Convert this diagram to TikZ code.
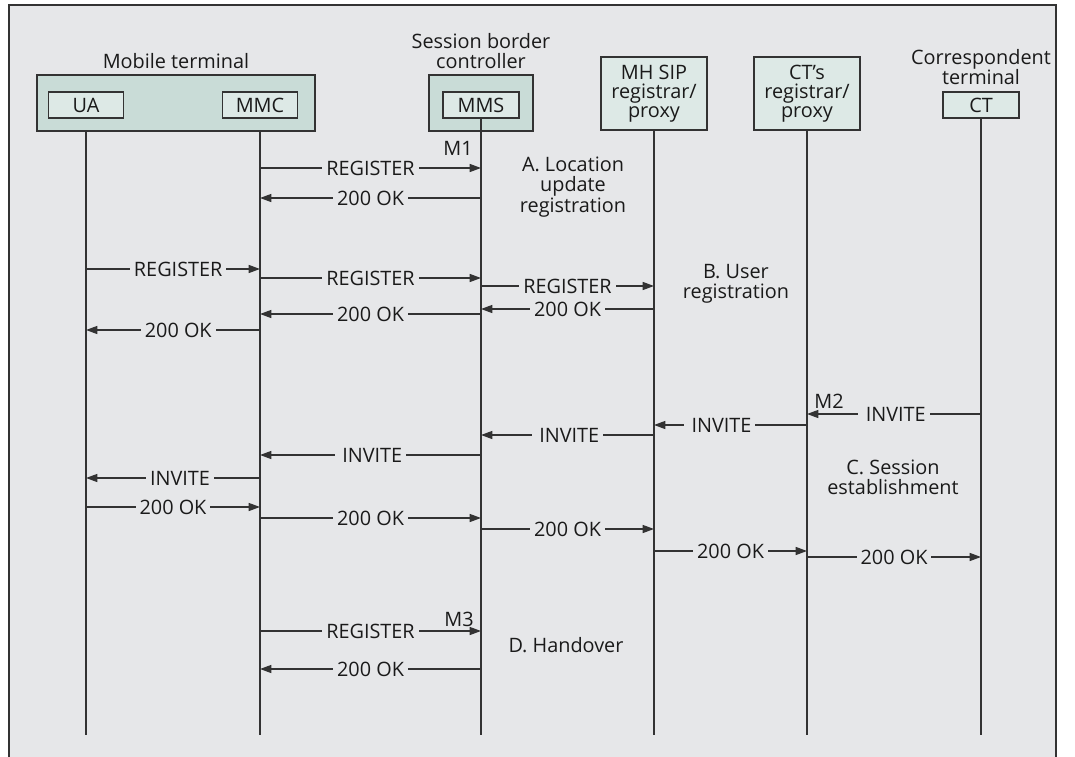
\documentclass[tikz,border=0pt]{standalone}
\usepackage{fontspec}
\setmainfont{Open Sans}
\usetikzlibrary{arrows.meta}
\definecolor{bg}{HTML}{E6E7E9}
\definecolor{outerfill}{HTML}{C9DCD7}
\definecolor{innerfill}{HTML}{DDE9E6}
\definecolor{ln}{HTML}{333333}
\definecolor{txt}{HTML}{1A1A1A}
\newcommand\msgarrow[5]{\draw[msg] (#1 |- 0,#3) -- node[lbl,pos=#5]{#4} (#2 |- 0,#3);}
\begin{document}
\begin{tikzpicture}[x=0.02cm,y=-0.02cm,
  font=\fontsize{11.3}{11.2}\selectfont, text=txt,
  outerbox/.style={draw=ln, line width=0.7pt, fill=outerfill, minimum height=1.12cm},
  innerbox/.style={draw=ln, line width=0.7pt, fill=innerfill, inner sep=0pt},
  life/.style={draw=ln, line width=0.7pt},
  msg/.style={draw=ln, line width=0.7pt, -{Triangle[length=6.5pt,width=4.6pt]}},
  lbl/.style={fill=bg, inner xsep=2.2pt, inner ysep=0.5pt, text=txt},
  note/.style={align=center, font=\fontsize{11.3}{11.6}\selectfont},
  title/.style={anchor=base, inner sep=0pt}]
\useasboundingbox (0,0) rectangle (1075,757);
\fill[bg] (9,5) rectangle (1056,757);
\draw[ln, line width=0.8pt] (9,757) -- (9,5) -- (1056,5) -- (1056,757);

% participants
\node[outerbox, minimum width=5.56cm] (mt) at (176,103) {};
\node[innerbox, minimum width=1.5cm, minimum height=0.52cm] (ua) at (86,105) {UA};
\node[innerbox, minimum width=1.5cm, minimum height=0.52cm] (mmc) at (260,105) {MMC};
\node[outerbox, minimum width=2.08cm] (sbc) at (481,103) {};
\node[innerbox, minimum width=1.52cm, minimum height=0.52cm] (mms) at (481,105) {MMS};
\node[innerbox, minimum width=2.12cm, minimum height=1.46cm, align=center,
      font=\fontsize{11.3}{10.8}\selectfont] (mhsip) at (654,93.5) {MH SIP\\registrar/\\proxy};
\node[innerbox, minimum width=2.12cm, minimum height=1.46cm, align=center,
      font=\fontsize{11.3}{10.8}\selectfont] (cts) at (807,93.5) {CT’s\\registrar/\\proxy};
\node[innerbox, minimum width=1.52cm, minimum height=0.52cm] (ct) at (981,105) {CT};

% titles
\node[title] (t1) at (176,69) {Mobile terminal};
\node[title] (t2) at (481,49) {Session border};
\node[title] (t3) at (481,69) {controller};
\node[title] (t4) at (981,65) {Correspondent};
\node[title] (t5) at (981,85) {terminal};

% lifelines
\coordinate (yend) at (0,735);
\draw[life] (ua |- mt.south) -- (ua |- yend);
\draw[life] (mmc |- mt.south) -- (mmc |- yend);
\draw[life] (mms.south) -- (mms |- yend);
\draw[life] (mhsip.south) -- (mhsip |- yend);
\draw[life] (cts.south) -- (cts |- yend);
\draw[life] (ct.south) -- (ct |- yend);

% A. Location update registration
\msgarrow{mmc}{mms}{168}{REGISTER}{0.5}
\msgarrow{mms}{mmc}{198}{200 OK}{0.5}
\node (m1) at (458,148) {M1};
\node[note] (na) at (573,187) {A. Location\\update\\registration};

% B. User registration
\msgarrow{ua}{mmc}{269}{REGISTER}{0.53}
\msgarrow{mmc}{mms}{278}{REGISTER}{0.5}
\msgarrow{mms}{mhsip}{286}{REGISTER}{0.5}
\msgarrow{mhsip}{mms}{309}{200 OK}{0.5}
\msgarrow{mms}{mmc}{314}{200 OK}{0.5}
\msgarrow{mmc}{ua}{330}{200 OK}{0.47}
\node[note] (nb) at (736,284) {B. User\\registration};

% C. Session establishment
\msgarrow{ct}{cts}{414}{\hspace{2pt}INVITE\hspace{3pt}}{0.5}
\node (m2) at (829,401) {M2};
\msgarrow{cts}{mhsip}{425}{\hspace{2pt}INVITE\hspace{3pt}}{0.57}
\msgarrow{mhsip}{mms}{435}{\hspace{2pt}INVITE\hspace{3pt}}{0.5}
\msgarrow{mms}{mmc}{455}{\hspace{2pt}INVITE\hspace{3pt}}{0.5}
\msgarrow{mmc}{ua}{478}{INVITE}{0.46}
\node[note] (nc) at (893,477) {C. Session\\establishment};
\msgarrow{ua}{mmc}{507}{200 OK}{0.5}
\msgarrow{mmc}{mms}{518}{200 OK}{0.5}
\msgarrow{mms}{mhsip}{529}{200 OK}{0.5}
\msgarrow{mhsip}{cts}{551}{200 OK}{0.5}
\msgarrow{cts}{ct}{557}{200 OK}{0.5}

% D. Handover
\msgarrow{mmc}{mms}{631}{REGISTER}{0.5}
\node (m3) at (459,619) {M3};
\msgarrow{mms}{mmc}{669}{200 OK}{0.5}
\node[note] (nd) at (566,645) {D. Handover};
\end{tikzpicture}
\end{document}
